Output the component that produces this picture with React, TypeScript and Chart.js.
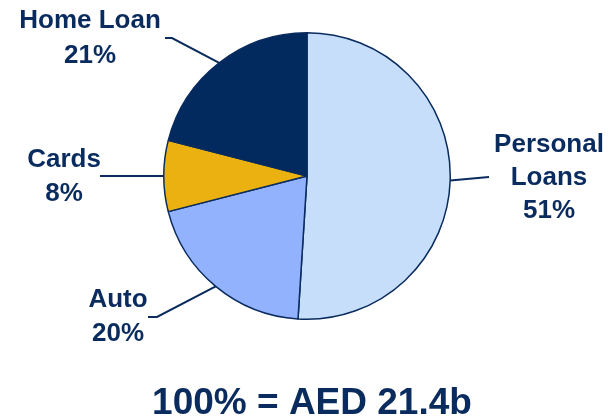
import React, { useEffect, useRef } from "react";
import { Chart, registerables } from "chart.js";

Chart.register(...registerables);

const categories = ["Personal Loans", "Auto", "Cards", "Home Loan"];
const shares = [51, 20, 8, 21];
const labelLines = [["Personal", "Loans", "51%"], ["Auto", "20%"], ["Cards", "8%"], ["Home Loan", "21%"]];
const totalLabel = "100% = AED 21.4b";

const colors = ["#C6DEFA", "#93B2FE", "#EBB111", "#022A5E"];
const navy = "#0A2B5E";

// label layout: elbow points, text centre x, first baseline, line spacing
const labelLayout = [
  { path: [[489, 177]], tx: 549, ty: 152, dy: 33 },
  { path: [[157, 317], [148, 317]], tx: 118, ty: 307, dy: 34 },
  { path: [[100, 176]], tx: 64, ty: 167, dy: 34 },
  { path: [[172, 38], [165, 38]], tx: 90, ty: 28, dy: 35 },
];

const labelPlugin = {
  id: "pieLabels",
  afterDraw(chart: any) {
    const ctx = chart.ctx;
    const meta = chart.getDatasetMeta(0);
    ctx.save();
    ctx.strokeStyle = navy;
    ctx.lineWidth = 2;
    ctx.fillStyle = navy;
    ctx.textAlign = "center";
    ctx.textBaseline = "alphabetic";
    ctx.font = "bold 26px 'Liberation Sans', Arial, sans-serif";
    meta.data.forEach((arc: any, i: number) => {
      const p = arc.getProps(["x", "y", "startAngle", "endAngle", "outerRadius"], true);
      const mid = (p.startAngle + p.endAngle) / 2;
      const ex = p.x + Math.cos(mid) * p.outerRadius;
      const ey = p.y + Math.sin(mid) * p.outerRadius;
      const lay = labelLayout[i];
      ctx.beginPath();
      ctx.moveTo(ex, ey);
      lay.path.forEach((pt) => ctx.lineTo(pt[0], pt[1]));
      ctx.stroke();
      labelLines[i].forEach((t, k) => ctx.fillText(t, lay.tx, lay.ty + k * lay.dy));
    });
    ctx.font = "bold 37px 'Liberation Sans', Arial, sans-serif";
    ctx.fillText(totalLabel, 312, 414);
    ctx.restore();
  },
};

export default function App() {
  const ref = useRef<HTMLCanvasElement>(null);
  useEffect(() => {
    document.body.style.margin = "0";
    const chart = new Chart(ref.current!, {
      type: "pie",
      data: {
        labels: categories,
        datasets: [
          {
            data: shares,
            backgroundColor: colors,
            borderColor: navy,
            borderWidth: 1.5,
          },
        ],
      },
      options: {
        responsive: false,
        animation: false,
        layout: { padding: { top: 32, bottom: 98, left: 163, right: 165 } },
        plugins: { legend: { display: false }, tooltip: { enabled: false }, title: { display: false } },
      },
      plugins: [labelPlugin],
    });
    return () => chart.destroy();
  }, []);
  return (
    <div style={{ width: 616, height: 418, background: "#fff" }}>
      <canvas ref={ref} width={616} height={418} style={{ display: "block" }} />
    </div>
  );
}
